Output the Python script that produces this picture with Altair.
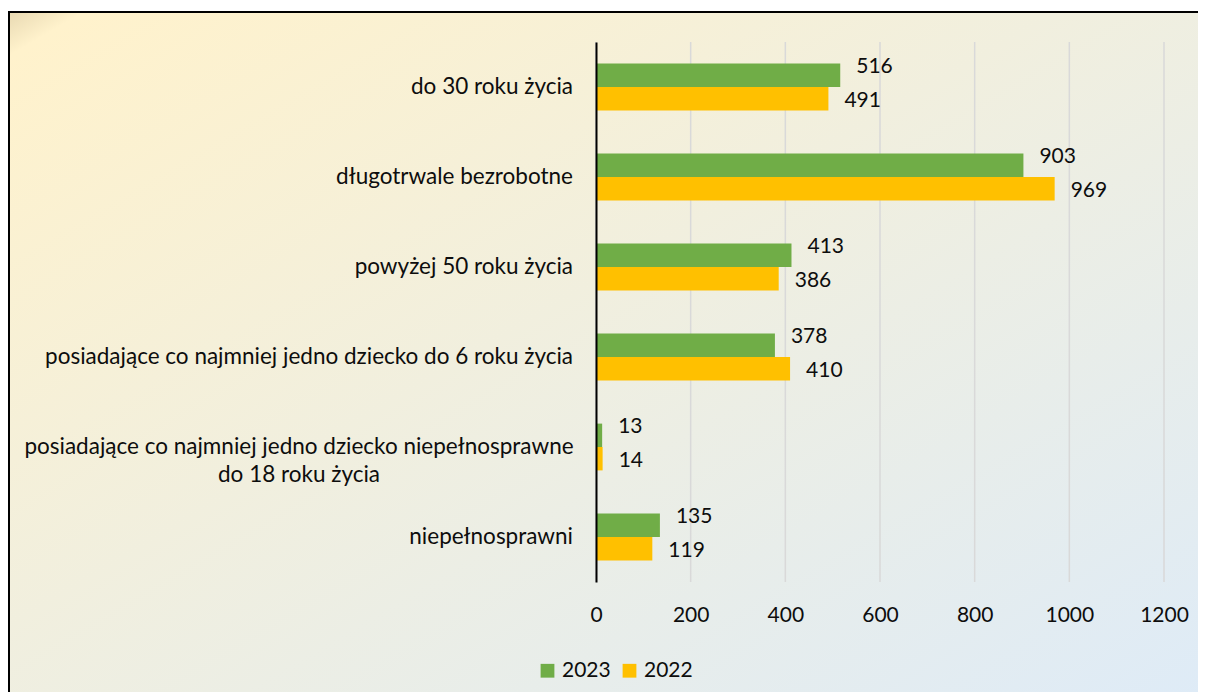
import altair as alt
import pandas as pd

label_lines = [
    ["do 30 roku życia"],
    ["długotrwale bezrobotne"],
    ["powyżej 50 roku życia"],
    ["posiadające co najmniej jedno dziecko do 6 roku życia"],
    ["posiadające co najmniej jedno dziecko niepełnosprawne", "do 18 roku życia"],
    ["niepełnosprawni"],
]
categories = [" ".join(l) for l in label_lines]
values_2023 = [516, 903, 413, 378, 13, 135]
values_2022 = [491, 969, 386, 410, 14, 119]
years = ["2023", "2022"]
colors = ["#70AD47", "#FFC000"]
tick_values = [0, 200, 400, 600, 800, 1000, 1200]
title_text = "2022 i 2023r."

FONT = "Lato"
FS = 21
FS_CAT = 22.5
TXT = "#0d0d0d"

rows = []
for c, v23, v22 in zip(categories, values_2023, values_2022):
    rows.append({"cat": c, "year": "2023", "value": v23})
    rows.append({"cat": c, "year": "2022", "value": v22})
df = pd.DataFrame(rows)

lab_df = pd.DataFrame({
    "cat": categories,
    "label": ["\n".join(l) for l in label_lines],
    "multi": [len(l) > 1 for l in label_lines],
})
ticks_df = pd.DataFrame({"tick": tick_values})

x_scale = alt.Scale(domain=[0, 1200], nice=False, zero=True)
y_enc = alt.Y(
    "cat:N", sort=categories,
    scale=alt.Scale(domain=categories, paddingInner=0.48, paddingOuter=0.24),
    axis=alt.Axis(labels=False, ticks=False, domain=True, domainColor="#000000",
                  domainWidth=2, grid=False, title=None, zindex=1),
)

# background box with gradient
bg = alt.Chart(alt.Data(values=[{}])).mark_rect(
    fill=alt.Gradient(
        gradient="linear", x1=0, y1=0, x2=1, y2=1,
        stops=[
            alt.GradientStop(color="#E8D9B2", offset=0),
            alt.GradientStop(color="#FFF2CC", offset=0.03),
            alt.GradientStop(color="#DEEBF7", offset=0.95),
        ],
    ),
    stroke="#000000", strokeWidth=2,
).encode(
    x=alt.value(-587), x2=alt.value(660),
    y=alt.value(-30), y2=alt.value(700),
)

title = alt.Chart(alt.Data(values=[{"t": title_text}])).mark_text(
    font="Liberation Serif", fontSize=30, fontWeight="bold", align="left",
    baseline="alphabetic", color="#000000",
).encode(x=alt.value(-588), y=alt.value(-37), text="t:N")

grid = alt.Chart(ticks_df).mark_rule(color="#D9D9D9", strokeWidth=1.5).encode(
    x=alt.X("tick:Q", scale=x_scale)
)

bars = alt.Chart(df).mark_bar().encode(
    x=alt.X("value:Q", scale=x_scale,
            axis=alt.Axis(values=tick_values, format="d", domain=False, ticks=False,
                          grid=False, labelFont=FONT, labelFontSize=FS, labelColor=TXT,
                          labelPadding=22, title=None, zindex=1, labelFlush=False)),
    y=y_enc,
    yOffset=alt.YOffset("year:N", sort=years,
                        scale=alt.Scale(domain=years, paddingInner=0, paddingOuter=0)),
    color=alt.Color("year:N", sort=years,
                    scale=alt.Scale(domain=years, range=colors),
                    legend=alt.Legend(orient="none", direction="horizontal",
                                      legendX=-59, legendY=618, title=None,
                                      symbolType="square", symbolSize=190,
                                      symbolStrokeWidth=0, labelFont=FONT,
                                      labelFontSize=FS, labelColor=TXT,
                                      labelOffset=4, columnPadding=8, padding=0,
                                      zindex=1)),
)

def value_labels(year, dy):
    return alt.Chart(df).transform_filter(alt.datum.year == year).mark_text(
        align="left", baseline="middle", dx=16, dy=dy,
        font=FONT, fontSize=FS, color=TXT,
    ).encode(
        x=alt.X("value:Q", scale=x_scale),
        y=alt.Y("cat:N", sort=categories),
        yOffset=alt.YOffset("year:N", sort=years),
        text="value:Q",
    )

lab_single = alt.Chart(lab_df).transform_filter("!datum.multi").mark_text(
    align="right", baseline="middle", font=FONT, fontSize=FS_CAT, color=TXT,
).encode(y=alt.Y("cat:N", sort=categories), x=alt.value(-23), text="label:N")

lab_multi = alt.Chart(lab_df).transform_filter("datum.multi").mark_text(
    align="center", baseline="middle", font=FONT, fontSize=FS_CAT, color=TXT,
    lineBreak="\n", lineHeight=28,
).encode(y=alt.Y("cat:N", sort=categories), x=alt.value(-297), text="label:N")

chart = alt.layer(
    bg, title, grid, bars,
    value_labels("2023", -8), value_labels("2022", 2),
    lab_single, lab_multi,
).properties(
    width=568, height=540,
    autosize=alt.AutoSizeParams(type="none"),
    padding={"left": 588, "top": 34, "right": 34, "bottom": 110},
).configure_view(stroke=None)

chart.save("out.html", embed_options={"renderer": "svg", "actions": False})
